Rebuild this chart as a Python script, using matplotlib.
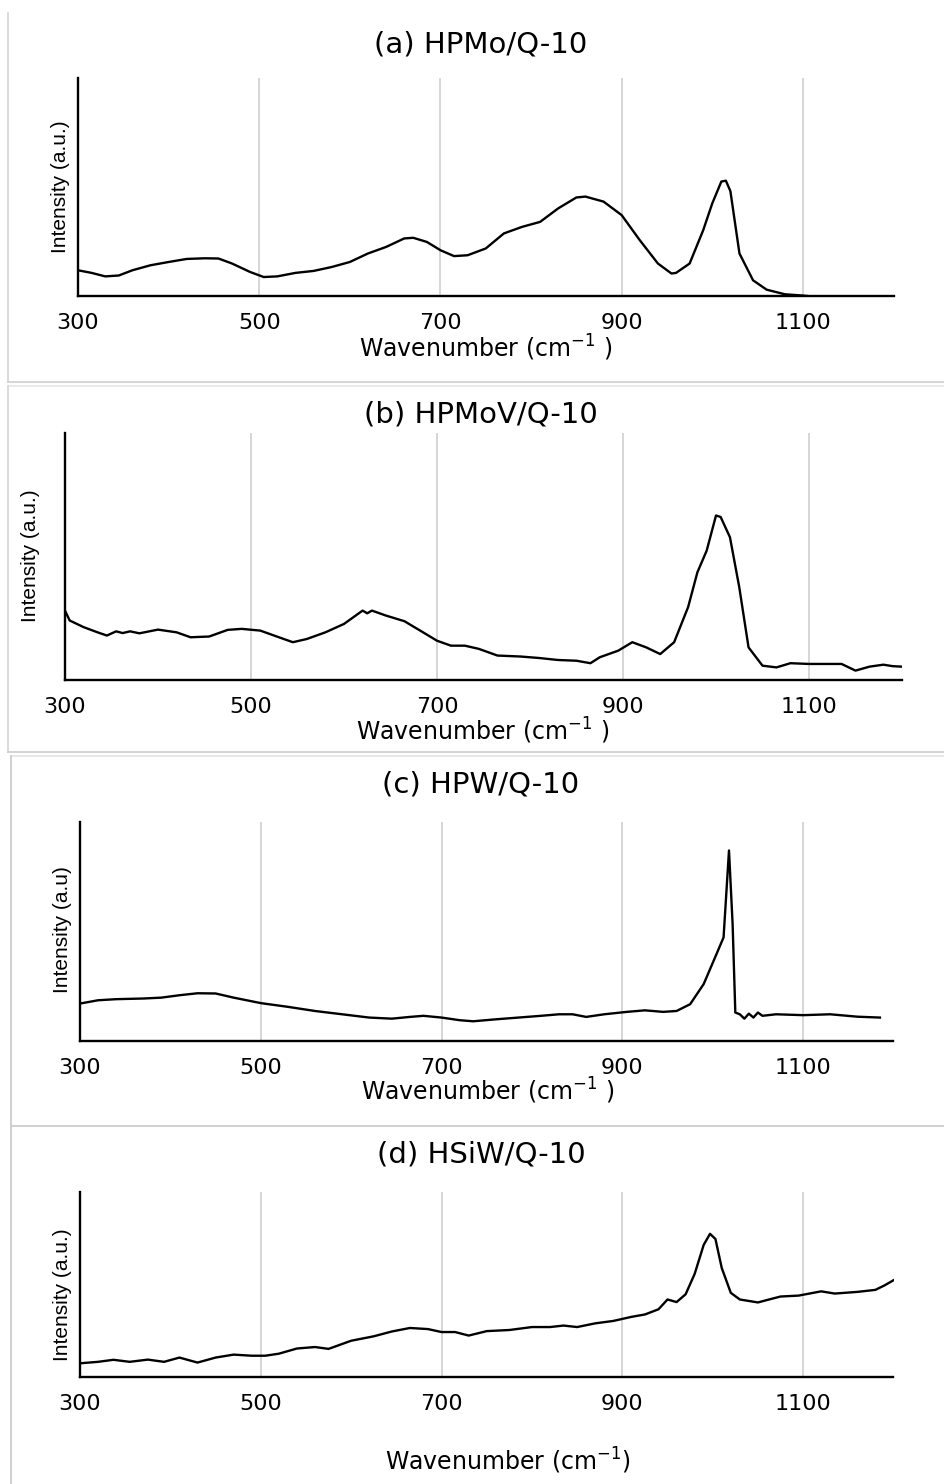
import numpy as np
import matplotlib
matplotlib.use("Agg")
import matplotlib.pyplot as plt
from matplotlib.lines import Line2D

# (a) HPMo/Q-10
wn_a = [300, 315, 330, 345, 360, 380, 400, 420, 440, 455, 470, 490, 505, 520, 540, 560, 580, 600,
        620, 640, 660, 670, 685, 700, 715, 730, 750, 770, 790, 810, 830, 850, 860, 880, 900, 920,
        940, 955, 960, 975, 990, 1000, 1010, 1015, 1020, 1030, 1045, 1060, 1080, 1100, 1105]
int_a = [11.8, 10.6, 9.0, 9.4, 11.8, 14.1, 15.6, 17.0, 17.3, 17.2, 14.9, 11.0, 8.7, 9.0, 10.6, 11.5, 13.3, 15.6,
         19.5, 22.5, 26.4, 26.7, 24.8, 21.0, 18.3, 18.7, 21.8, 28.7, 31.7, 34.0, 40.2, 45.2, 45.6, 43.3, 37.1, 25.6,
         14.9, 10.3, 10.6, 14.9, 30.2, 42.5, 52.5, 52.9, 48.1, 19.5, 7.2, 2.9, 0.8, 0.2, 0.0]

# (b) HPMoV/Q-10
wn_b = [300, 305, 320, 335, 345, 355, 362, 370, 380, 400, 420, 435, 455, 475, 490, 510, 530, 545,
        560, 580, 600, 620, 625, 630, 645, 665, 685, 700, 715, 730, 745, 765, 790, 810, 830, 850,
        865, 875, 895, 910, 925, 940, 955, 970, 980, 990, 1000, 1005, 1015, 1025, 1035, 1050, 1065,
        1080, 1100, 1120, 1135, 1150, 1165, 1180, 1190, 1200]
int_b = [28.1, 24.1, 21.4, 19.3, 18.0, 19.7, 19.0, 19.7, 18.9, 20.4, 19.3, 17.3, 17.6, 20.3, 20.7, 20.0, 17.3, 15.3,
         16.6, 19.3, 22.7, 28.1, 27.0, 28.1, 26.1, 23.8, 19.3, 15.9, 13.9, 13.9, 12.6, 9.9, 9.5, 8.9, 8.1, 7.8,
         6.8, 9.2, 11.9, 15.3, 13.2, 10.5, 15.3, 29.5, 43.6, 52.4, 66.6, 66.0, 57.8, 37.6, 13.2, 5.8, 5.1,
         6.8, 6.5, 6.5, 6.5, 3.8, 5.4, 6.2, 5.6, 5.4]

# (c) HPW/Q-10
wn_c = [300, 320, 340, 370, 390, 410, 430, 450, 470, 500, 530, 560, 590, 620, 645, 665, 680, 700,
        720, 735, 760, 785, 810, 830, 845, 860, 880, 905, 925, 945, 960, 975, 990, 1005, 1012, 1018,
        1022, 1025, 1030, 1035, 1040, 1045, 1050, 1055, 1070, 1100, 1130, 1160, 1185]
int_c = [17.1, 18.6, 19.1, 19.4, 19.8, 20.9, 21.8, 21.7, 19.8, 17.3, 15.6, 13.7, 12.2, 10.7, 10.2, 11.0, 11.5, 10.7,
         9.5, 9.0, 9.9, 10.7, 11.5, 12.2, 12.2, 11.0, 12.2, 13.3, 14.0, 13.3, 13.7, 16.8, 26.0, 40.5, 47.3, 87.0,
         53.4, 13.0, 12.2, 10.2, 12.5, 10.7, 13.0, 11.5, 12.2, 11.8, 12.2, 11.1, 10.7]

# (d) HSiW/Q-10
wn_d = [300, 320, 337, 355, 375, 393, 410, 430, 450, 470, 490, 505, 520, 540, 560, 575, 600, 625,
        645, 665, 685, 700, 715, 730, 750, 775, 800, 820, 835, 850, 870, 890, 910, 925, 940, 950,
        960, 970, 980, 990, 997, 1003, 1010, 1020, 1030, 1050, 1060, 1075, 1095, 1120, 1135, 1160,
        1180, 1190, 1200]
int_d = [7.4, 8.2, 9.3, 8.2, 9.4, 8.2, 10.5, 7.8, 10.5, 12.1, 11.5, 11.5, 12.6, 15.4, 16.2, 15.2, 19.6, 22.0,
         24.6, 26.5, 25.9, 24.3, 24.3, 22.4, 24.8, 25.4, 27.0, 27.0, 27.8, 27.0, 29.0, 30.3, 32.5, 33.8, 36.6, 41.9,
         40.5, 44.7, 55.7, 71.4, 77.4, 74.6, 58.9, 45.5, 41.9, 40.3, 41.6, 43.5, 44.0, 46.3, 45.1, 46.0,
         47.1, 49.5, 52.3]

titles = ["(a) HPMo/Q-10", "(b) HPMoV/Q-10", "(c) HPW/Q-10", "(d) HSiW/Q-10"]
ylabels = ["Intensity (a.u.)", "Intensity (a.u.)", "Intensity (a.u)", "Intensity (a.u.)"]
xlabels = ["Wavenumber (cm$^{-1}$ )", "Wavenumber (cm$^{-1}$ )", "Wavenumber (cm$^{-1}$ )", "Wavenumber (cm$^{-1}$)"]
ticks = [300, 500, 700, 900, 1100]

W, H = 944, 1484
fig = plt.figure(figsize=(W / 100, H / 100), dpi=100)

# pixel layout: axes (left, right, top, bottom), title y, ylabel (x, y), xlabel (x, y)
layout = [
    dict(ax=(78, 893.5, 78, 296), title=44, ylab=(61, 187), xlab=(486, 348)),
    dict(ax=(65, 902, 433, 680), title=415, ylab=(30, 556), xlab=(483, 731)),
    dict(ax=(80, 893.5, 822, 1041), title=785, ylab=(62, 930), xlab=(488, 1091)),
    dict(ax=(80, 893.5, 1192, 1377), title=1155, ylab=(63, 1295), xlab=(508, 1461)),
]
data = [(wn_a, int_a), (wn_b, int_b), (wn_c, int_c), (wn_d, int_d)]

for i, (wn, inten) in enumerate(data):
    L = layout[i]
    l, r, t, b = L["ax"]
    ax = fig.add_axes([l / W, 1 - b / H, (r - l) / W, (b - t) / H])
    ax.plot(wn, inten, color="black", lw=1.7, zorder=3)
    ax.set_xlim(300, 1200)
    ax.set_ylim(0, 100)
    for g in ticks[1:]:
        ax.axvline(g, color="#d6d6d6", lw=1.4, zorder=1)
    ax.set_xticks(ticks)
    ax.set_xticklabels([str(v) for v in ticks], fontsize=16, family="DejaVu Sans")
    ax.set_yticks([])
    ax.tick_params(axis="x", length=0, pad=12)
    for s in ["top", "right"]:
        ax.spines[s].set_visible(False)
    ax.spines["left"].set_linewidth(1.7)
    ax.spines["bottom"].set_linewidth(1.7)
    ax.patch.set_alpha(0)

    fig.text(481 / W, 1 - L["title"] / H, titles[i], ha="center", va="center",
             fontsize=21, family="DejaVu Sans")
    fig.text(L["ylab"][0] / W, 1 - L["ylab"][1] / H, ylabels[i], ha="center", va="center",
             rotation=90, fontsize=15, family=["Liberation Sans Narrow", "Liberation Sans"])
    fig.text(L["xlab"][0] / W, 1 - L["xlab"][1] / H, xlabels[i], ha="center", va="center",
             fontsize=17, family="DejaVu Sans")

# light panel frames
def hline(y, x0, x1, c):
    fig.add_artist(Line2D([x0 / W, x1 / W], [1 - y / H, 1 - y / H], color=c, lw=1.2, transform=fig.transFigure))

def vline(x, y0, y1, c):
    fig.add_artist(Line2D([x / W, x / W], [1 - y0 / H, 1 - y1 / H], color=c, lw=1.2, transform=fig.transFigure))

vline(8, 13, 382, "#d4d4d4")
hline(382, 8, 944, "#d0d0d0")
hline(386, 8, 944, "#e6e6e6")
vline(8, 386, 752, "#d4d4d4")
hline(752, 8, 944, "#cccccc")
hline(756, 11, 944, "#e3e3e3")
vline(11, 756, 1484, "#c8c8c8")
hline(1126, 11, 944, "#c8c8c8")

fig.savefig("out.png", dpi=100, facecolor="white")
